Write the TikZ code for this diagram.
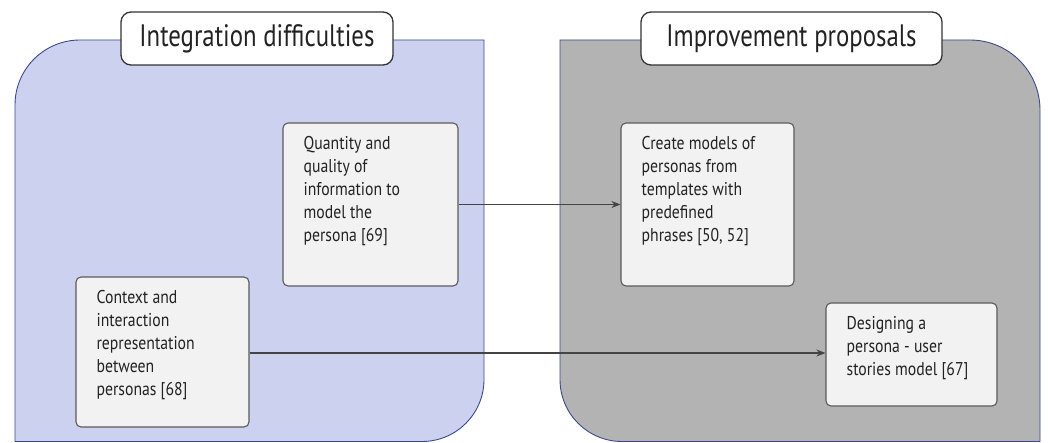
\documentclass[tikz,border=0pt]{standalone}
\usepackage{fontspec}
\setmainfont{PT Sans}
\newfontfamily\dosis[FakeStretch=0.85]{PT Sans}
\newfontfamily\dosistitle[FakeStretch=0.8]{PT Sans}
\usetikzlibrary{arrows.meta}
\definecolor{leftfill}{HTML}{CDD1F0}
\definecolor{rightfill}{HTML}{B3B3B3}
\definecolor{panelline}{HTML}{3C4A8C}
\definecolor{boxfill}{HTML}{F2F2F2}
\definecolor{boxline}{HTML}{5A5A5A}
\definecolor{arrowcol}{HTML}{444444}
\definecolor{textcol}{HTML}{222222}
\tikzset{
  panel/.style={draw=panelline, line width=0.9pt},
  titlebox/.style={draw=black!80, fill=white, rounded corners=10pt, line width=1.3pt,
    minimum height=53pt, inner sep=0pt, font=\dosistitle\fontsize{31}{34}\selectfont, text=textcol},
  itembox/.style={draw=boxline, fill=boxfill, rounded corners=5pt, line width=1.1pt, inner sep=0pt},
  itemtext/.style={anchor=north west, align=left, inner sep=0pt, text=textcol,
    font=\dosis\fontsize{18.5}{23}\selectfont},
  link/.style={draw=arrowcol, line width=1.8pt, -{Stealth[length=9pt,width=7pt]}}
}
\begin{document}
\begin{tikzpicture}[x=1pt,y=1pt]
\useasboundingbox (0,0) rectangle (1048,442);
\fill[white] (0,0) rectangle (1048,442);
% left panel
\path[panel, fill=leftfill] (15,0.5) -- (15,337) arc[start angle=180,end angle=90,radius=65]
  -- (484,402) -- (484,62.5) arc[start angle=0,end angle=-90,radius=62] -- cycle;
% right panel
\path[panel, fill=rightfill] (560,402) -- (970,402) arc[start angle=90,end angle=0,radius=70]
  -- (1040,0.5) -- (622,0.5) arc[start angle=270,end angle=180,radius=62] -- cycle;
% titles
\node[titlebox, minimum width=272pt] (t1) at (257,403.5) {Integration difficulties};
\node[titlebox, minimum width=301pt] (t2) at (791.5,403.5) {Improvement proposals};
% boxes
\node[itembox, minimum width=175pt, minimum height=163pt] (q) at (370.5,237.5) {};
\node[itembox, minimum width=173pt, minimum height=163pt] (c) at (707.5,237.5) {};
\node[itembox, minimum width=173pt, minimum height=150pt] (x) at (162.5,90) {};
\node[itembox, minimum width=171pt, minimum height=103pt] (d) at (911.5,87.5) {};
\node[itemtext] (qt) at ([shift={(21,-14)}]q.north west) {Quantity and\\quality of\\information to\\model the\\persona [69]};
\node[itemtext] (ct) at ([shift={(21,-14)}]c.north west) {Create models of\\personas from\\templates with\\predefined\\phrases [50, 52]};
\node[itemtext] (xt) at ([shift={(21,-14)}]x.north west) {Context and\\interaction\\representation\\between\\personas [68]};
\node[itemtext] (dt) at ([shift={(21,-14)}]d.north west) {Designing a\\persona - user\\stories model [67]};
% links
\draw[link] (q.east) -- (c.west);
\draw[link] ([yshift=-1pt]x.east) -- ([yshift=-1pt]x.east -| d.west);
\end{tikzpicture}
\end{document}
